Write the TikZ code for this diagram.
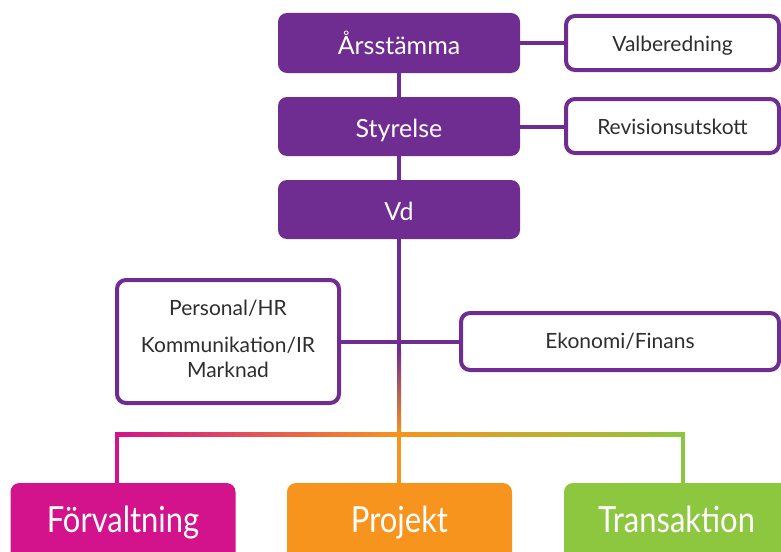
\documentclass[tikz,border=0pt]{standalone}
\usepackage{fontspec}
\setmainfont{Lato}
\usetikzlibrary{calc,backgrounds}
\definecolor{vpurple}{HTML}{6F2C91}
\definecolor{vmag}{HTML}{D2138C}
\definecolor{vorange}{HTML}{F7941E}
\definecolor{vgreen}{HTML}{8DC63F}
\definecolor{vtext}{HTML}{2E2E2E}
\begin{document}
\begin{tikzpicture}[x=1pt,y=-1pt,
  mainbox/.style={fill=vpurple, rounded corners=9pt, minimum width=242pt, minimum height=60pt, inner sep=0pt, text=white, text height=22.5pt, text depth=0pt, font=\fontsize{25}{29}\selectfont},
  sidebox/.style={draw=vpurple, line width=4pt, fill=white, rounded corners=9pt, inner sep=0pt, text=vtext, font=\fontsize{21}{26}\selectfont},
  lbl/.style={text=vtext, font=\fontsize{21}{26}\selectfont, inner sep=0pt},
  unitbox/.style={rounded corners=9pt, minimum width=225pt, minimum height=80pt, inner sep=0pt, text=white, text height=26pt, text depth=8pt, font=\fontsize{36}{40}\selectfont},
  conn/.style={draw=vpurple, line width=4pt},
]
\useasboundingbox (0,0) rectangle (781,551);
\clip (0,0) rectangle (781,551);

\node[mainbox] (ars) at (399,43) {Årsstämma};
\node[mainbox, minimum height=59pt] (sty) at (399,126.5) {Styrelse};
\node[mainbox, minimum height=59pt] (vd) at (399,209.5) {Vd};
\node[sidebox, minimum width=213pt, minimum height=54pt, text height=17pt, text depth=0pt] (valb) at (672.5,43) {Valberedning};
\node[sidebox, minimum width=213pt, minimum height=54pt, text height=17pt, text depth=0pt] (rev) at (672.5,126) {Revisionsutskott};
\node[sidebox, minimum width=222pt, minimum height=123pt] (stab) at (228,341.5) {};
\node[lbl, anchor=base] (l1) at (228,315) {Personal/HR};
\node[lbl, anchor=base] (l2) at (228,352) {Kommunikation/IR};
\node[lbl, anchor=base] (l3) at (228,377) {Marknad};
\node[sidebox, minimum width=318pt, minimum height=57pt] (eko) at (620,341.5) {Ekonomi/Finans};

\node[unitbox, fill=vmag] (forv) at (123,523) {\scalebox{0.86}[1]{Förvaltning}};
\node[unitbox, fill=vorange] (proj) at (399.5,523) {\scalebox{0.86}[1]{Projekt}};
\node[unitbox, fill=vgreen] (trans) at (676.5,523) {\scalebox{0.86}[1]{Transaktion}};

\begin{scope}[on background layer]
  \coordinate (bar) at (vd.south |- 0,434);
  \coordinate (fade) at (vd.south |- 0,352);
  \coordinate (barL) at (117,434);
  \coordinate (barR) at (683,434);
  \draw[conn] (ars) -- (sty);
  \draw[conn] (sty) -- (vd);
  \draw[conn] (ars.east) -- (ars.east -| valb.west);
  \draw[conn] (sty.east) -- (sty.east -| rev.west);
  \draw[conn] (vd.south) -- (fade);
  \draw[conn] (stab.east) -- (stab.east -| eko.west);
  \shade[top color=vpurple, bottom color=vorange] ($(fade)+(-2,-2)$) rectangle ($(bar)+(2,0)$);
  \shade[left color=vmag, right color=vorange] ($(barL)+(-2,-2)$) rectangle ($(bar)+(0,2)$);
  \shade[left color=vorange, right color=vgreen] ($(bar)+(0,-2)$) rectangle ($(barR)+(2,2)$);
  \fill[vmag] ($(barL)+(-2,0)$) rectangle ($(barL |- forv.north)+(2,2)$);
  \fill[vorange] ($(bar)+(-2,0)$) rectangle ($(bar |- proj.north)+(2,2)$);
  \fill[vgreen] ($(barR)+(-2,0)$) rectangle ($(barR |- trans.north)+(2,2)$);
\end{scope}
\end{tikzpicture}
\end{document}
